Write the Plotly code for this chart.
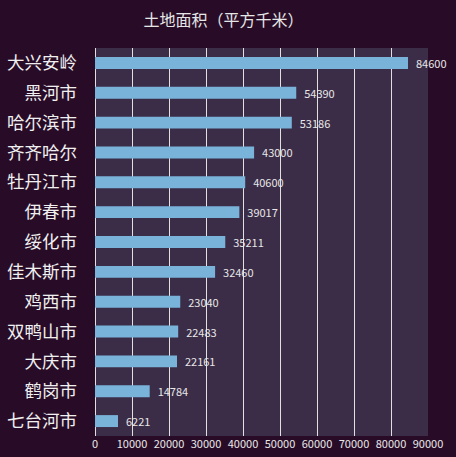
import plotly.graph_objects as go

cities = ['大兴安岭', '黑河市', '哈尔滨市', '齐齐哈尔', '牡丹江市', '伊春市', '绥化市',
          '佳木斯市', '鸡西市', '双鸭山市', '大庆市', '鹤岗市', '七台河市']
areas = [84600, 54390, 53186, 43000, 40600, 39017, 35211,
         32460, 23040, 22483, 22161, 14784, 6221]
x_ticks = [0, 10000, 20000, 30000, 40000, 50000, 60000, 70000, 80000, 90000]

FONT = 'Noto Sans CJK SC'

fig = go.Figure(go.Bar(
    x=areas, y=cities, orientation='h',
    marker=dict(color='#7ab3da', line=dict(width=0)),
    # non-breaking spaces push the label away from the bar end
    text=['\u00a0\u00a0' + str(v) for v in areas], textposition='outside', constraintext='none',
    textfont=dict(size=11, color='#e8e8e8', family=FONT),
    cliponaxis=False, hoverinfo='x+y',
))

fig.update_layout(
    width=456, height=457,
    margin=dict(l=95, r=28, t=48, b=21),
    paper_bgcolor='#280c27',
    plot_bgcolor='#3b2c47',
    bargap=0.6,
    showlegend=False,
    title=dict(text='土地面积（平方千米）', x=0.49, xanchor='center', y=0.955, yanchor='middle',
               font=dict(size=16, color='#e6e6e6', family=FONT)),
    font=dict(family=FONT, color='#e8e8e8'),
)
fig.update_xaxes(range=[0, 90000], tickvals=x_ticks, ticktext=[str(t) for t in x_ticks],
                 showgrid=True, gridcolor='#e0e0e0', gridwidth=1.2,
                 zeroline=True, zerolinecolor='#e0e0e0', zerolinewidth=1.2,
                 tickfont=dict(size=11, color='#e8e8e8'), ticks='', automargin=False,
                 fixedrange=True)
fig.update_yaxes(autorange='reversed', showgrid=False, ticks='', ticklabelstandoff=17,
                 tickfont=dict(size=17.5, color='#f0f0f0'), automargin=False)

fig.write_html('out.html', config={'displayModeBar': False},
               post_script="document.body.style.margin='0';")
